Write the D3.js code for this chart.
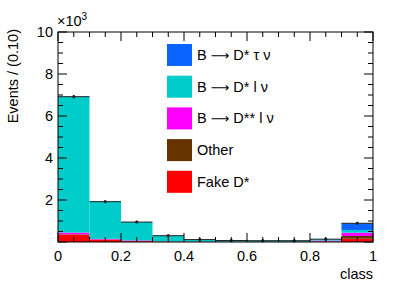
<!DOCTYPE html>
<html>
<head>
<meta charset="utf-8">
<script src="https://cdn.jsdelivr.net/npm/d3@7"></script>
<style>
  body { margin: 0; background: #fff; }
  svg { font-family: "Liberation Sans", Arial, sans-serif; }
</style>
</head>
<body>
<div id="chart"></div>
<script>
// bins of width 0.1 on [0, 1]
const binEdges = [0, 0.1, 0.2, 0.3, 0.4, 0.5, 0.6, 0.7, 0.8, 0.9, 1.0];

// stacked components, bottom to top
const fakeDstar = [350, 110, 40, 15, 8, 5, 5, 5, 20, 160];
const other = [20, 10, 5, 3, 2, 2, 2, 2, 10, 125];
const dstarstarLnu = [80, 30, 30, 10, 8, 5, 5, 5, 40, 160];
const dstarLnu = [6460, 1760, 870, 270, 95, 55, 50, 50, 60, 125];
const dstarTaunu = [10, 10, 5, 2, 2, 1, 1, 1, 5, 320];

// data points (events)
const dataCounts = [6920, 1920, 950, 300, 115, 70, 62, 62, 135, 890];

// legend labels split around the arrow so it can use a wider glyph
const seriesNames = [["B ", "D* \u03c4 \u03bd"], ["B ", "D* l \u03bd"], ["B ", "D** l \u03bd"], ["Other"], ["Fake D*"]];
const seriesColors = ["#0a64ff", "#00cccc", "#ff00ff", "#663300", "#ff0000"];

const xTicks = [0, 0.2, 0.4, 0.6, 0.8, 1];
const yTicks = [2000, 4000, 6000, 8000, 10000];

const width = 415, height = 282;
const margin = { top: 32, right: 42, bottom: 40, left: 58 };

const svg = d3.select("#chart").append("svg")
  .attr("width", width).attr("height", height);

const x = d3.scaleLinear().domain([0, 1]).range([margin.left, width - margin.right]);
const y = d3.scaleLinear().domain([0, 10000]).range([height - margin.bottom, margin.top]);

// build stack table
const rows = dataCounts.map((_, i) => ({
  x0: binEdges[i], x1: binEdges[i + 1],
  fake: fakeDstar[i], other: other[i], dss: dstarstarLnu[i], dsl: dstarLnu[i], tau: dstarTaunu[i]
}));
const keys = ["fake", "other", "dss", "dsl", "tau"];
const keyColor = { tau: seriesColors[0], dsl: seriesColors[1], dss: seriesColors[2], other: seriesColors[3], fake: seriesColors[4] };
const stacked = d3.stack().keys(keys)(rows);

svg.append("g").selectAll("g")
  .data(stacked)
  .join("g")
  .attr("fill", d => keyColor[d.key])
  .selectAll("rect")
  .data(d => d)
  .join("rect")
  .attr("x", d => x(d.data.x0))
  .attr("width", d => x(d.data.x1) - x(d.data.x0))
  .attr("y", d => y(d[1]))
  .attr("height", d => Math.max(0, y(d[0]) - y(d[1])));

// data points with bin-width x error
const pts = svg.append("g").attr("stroke", "#222").attr("stroke-width", 1);
dataCounts.forEach((v, i) => {
  const xc = x((binEdges[i] + binEdges[i + 1]) / 2);
  const err = Math.sqrt(v);
  pts.append("line")
    .attr("x1", x(binEdges[i])).attr("x2", x(binEdges[i + 1]))
    .attr("y1", y(v)).attr("y2", y(v));
  pts.append("line")
    .attr("x1", xc).attr("x2", xc)
    .attr("y1", y(v - err)).attr("y2", y(v + err));
  pts.append("circle").attr("cx", xc).attr("cy", y(v)).attr("r", 1.2).attr("fill", "#222");
});

// frame
const x0 = x(0), x1 = x(1), y0 = y(0), y1 = y(10000);
svg.append("rect")
  .attr("x", x0).attr("y", y1).attr("width", x1 - x0).attr("height", y0 - y1)
  .attr("fill", "none").attr("stroke", "#000").attr("stroke-width", 1);

// ticks
const tk = svg.append("g").attr("stroke", "#000").attr("stroke-width", 1);
d3.range(0, 1.0001, 0.05).forEach(t => {
  const major = Math.abs(t / 0.2 - Math.round(t / 0.2)) < 1e-6;
  const len = major ? 9 : 5;
  tk.append("line").attr("x1", x(t)).attr("x2", x(t)).attr("y1", y0).attr("y2", y0 - len);
  tk.append("line").attr("x1", x(t)).attr("x2", x(t)).attr("y1", y1).attr("y2", y1 + len);
});
d3.range(0, 10001, 500).forEach(t => {
  const len = t % 2000 === 0 ? 9 : 5;
  tk.append("line").attr("x1", x0).attr("x2", x0 + len).attr("y1", y(t)).attr("y2", y(t));
  tk.append("line").attr("x1", x1).attr("x2", x1 - len).attr("y1", y(t)).attr("y2", y(t));
});

// tick labels
svg.append("g").selectAll("text")
  .data(xTicks).join("text")
  .attr("x", d => x(d)).attr("y", y0 + 19)
  .attr("text-anchor", "middle").attr("font-size", 14.5)
  .text(d => d3.format("~g")(d));

svg.append("g").selectAll("text")
  .data(yTicks).join("text")
  .attr("x", x0 - 5).attr("y", d => y(d)).attr("dy", "0.35em")
  .attr("text-anchor", "end").attr("font-size", 14.5)
  .text(d => d / 1000);

const mult = svg.append("text").attr("x", x0 - 1).attr("y", 26).attr("font-size", 14.5);
mult.append("tspan").text("\u00d710");
mult.append("tspan").attr("font-size", 10).attr("dy", -6).text("3");

svg.append("text")
  .attr("transform", `translate(18,${y1 - 3}) rotate(-90)`)
  .attr("text-anchor", "end").attr("font-size", 14.5)
  .text("Events / (0.10)");

svg.append("text")
  .attr("x", x1).attr("y", y0 + 37)
  .attr("text-anchor", "end").attr("font-size", 14.5)
  .text("class");

// legend
const lg = svg.append("g");
seriesNames.forEach((parts, i) => {
  const ly = 44 + i * 31.7;
  lg.append("rect").attr("x", 167).attr("y", ly).attr("width", 25).attr("height", 22)
    .attr("fill", seriesColors[i]);
  const t = lg.append("text").attr("x", 197).attr("y", ly + 11).attr("dy", "0.35em")
    .attr("font-size", 14.5);
  if (parts.length === 2) {
    t.append("tspan").text(parts[0]);
    t.append("tspan").attr("font-family", "DejaVu Sans").attr("font-size", 13).text("\u27f6");
    t.append("tspan").text(" " + parts[1]);
  } else {
    t.text(parts[0]);
  }
});
</script>
</body>
</html>
